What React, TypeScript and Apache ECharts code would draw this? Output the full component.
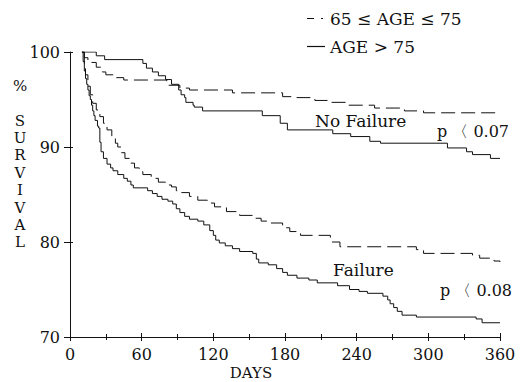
import React, { useEffect, useRef } from "react";
import * as echarts from "echarts";

// Kaplan-Meier curves: [day, % survival] (value holds from that day onward)
const noFailureOld: [number, number][] = [
  [10, 100], [22, 99.6], [29, 99.2], [61, 98.8], [64, 98.3], [69, 97.9], [74, 97.5],
  [80, 97.1], [85, 96.6], [91, 96.0], [93, 95.5], [96, 95.2], [97, 94.7], [103, 94.4],
  [104, 94.2], [111, 93.8], [161, 93.3], [176, 92.5], [182, 91.8], [220, 91.4],
  [235, 91.1], [251, 90.6], [260, 90.4], [316, 89.9], [332, 89.5], [337, 89.2],
  [352, 88.8], [360, 88.8],
];
const noFailureYoung: [number, number][] = [
  [10, 100], [12, 99.4], [15, 98.9], [22, 98.4], [27, 97.9], [30, 97.6], [38, 97.3],
  [45, 97.05], [81, 96.5], [92, 96.2], [100, 96.0], [136, 95.7], [178, 95.3],
  [190, 95.2], [205, 94.9], [218, 94.7], [232, 94.4], [255, 94.1], [280, 93.8],
  [296, 93.6], [360, 93.6],
];
const failureOld: [number, number][] = [
  [10, 100], [11, 99], [12, 98], [13, 97.2], [14, 96.6], [15, 96], [16, 95.4], [17, 95],
  [18, 94.4], [19, 93.8], [20, 93.3], [21, 92.8], [23, 92.2], [24, 92], [25, 90.5],
  [26, 89.5], [28, 88.8], [31, 88.2], [34, 87.8], [36, 87.5], [40, 87.1], [45, 86.7],
  [48, 86.4], [51, 86.0], [53, 85.7], [65, 85.4], [69, 85.1], [73, 84.8], [77, 84.5],
  [82, 84.3], [86, 84.0], [89, 83.5], [92, 83.1], [96, 82.7], [100, 82.4], [107, 82.2],
  [112, 81.8], [117, 81.2], [120, 80.7], [122, 80.2], [125, 79.9], [130, 79.6],
  [136, 79.3], [142, 79.0], [153, 78.8], [156, 78.2], [158, 77.8], [166, 77.6],
  [173, 77.2], [178, 76.8], [182, 76.5], [190, 76.2], [200, 76.0], [207, 75.7],
  [224, 75.4], [234, 75.0], [242, 74.8], [249, 74.6], [262, 74.3], [266, 73.9],
  [268, 73.5], [271, 73.1], [274, 72.7], [278, 72.3], [290, 72.1], [340, 71.9],
  [345, 71.5], [360, 71.5],
];
const failureYoung: [number, number][] = [
  [10, 100], [12, 98.5], [13, 97.6], [15, 96.4], [17, 95.5], [19, 94.6], [22, 93.9],
  [25, 93.2], [28, 92.5], [31, 91.8], [35, 91.0], [38, 90.4], [40, 90.0], [43, 89.4],
  [46, 88.8], [50, 88.3], [54, 87.8], [58, 87.4], [61, 87.1], [68, 86.7], [74, 86.3],
  [80, 86.0], [85, 85.8], [89, 85.4], [92, 85.2], [100, 84.8], [107, 84.4], [115, 84.1],
  [121, 83.7], [131, 83.2], [142, 82.8], [153, 82.5], [160, 82.2], [165, 82.0],
  [178, 81.5], [184, 81.1], [193, 80.7], [218, 80.0], [226, 79.5], [290, 79.2],
  [296, 78.8], [337, 78.6], [343, 78.3], [355, 78.0], [360, 77.9],
];

const groupNames = ["65 ≤ AGE ≤ 75", "AGE > 75"];
const yTitle = "%\n\nS\nU\nR\nV\nI\nV\nA\nL";
const xTitle = "DAYS";
const annotations = ["No Failure", "p 〈 0.07", "Failure", "p 〈 0.08"];

const FONT = "'DejaVu Serif', serif";
const INK = "#111";

export default function App() {
  const ref = useRef<HTMLDivElement>(null);
  useEffect(() => {
    if (!ref.current) return;
    const chart = echarts.init(ref.current, undefined, { renderer: "svg" });
    const lineSeries = (name: string, data: [number, number][], dashed: boolean) => ({
      type: "line",
      name,
      data,
      step: "end",
      symbol: "none",
      showSymbol: false,
      color: INK,
      lineStyle: { color: INK, width: 1, type: dashed ? [14, 6] : "solid" },
      xAxisIndex: 0,
      yAxisIndex: 0,
    });
    chart.setOption({
      animation: false,
      backgroundColor: "#fff",
      grid: {
        left: 70,
        right: 20,
        top: 52,
        bottom: 45,
        containLabel: false,
        outerBoundsMode: "none",
      },
      legend: {
        orient: "vertical",
        left: 302,
        top: 5,
        itemWidth: 18,
        itemHeight: 14,
        itemGap: 11,
        selectedMode: false,
        itemStyle: { color: INK, borderWidth: 0 },
        textStyle: { fontFamily: FONT, fontSize: 17, color: INK },
        data: [
          { name: groupNames[0], icon: "path://M0 0H7V1.2H0Z M14 0H16V1.2H14Z M17.9 0H18V1.2H17.9Z" },
          { name: groupNames[1], icon: "path://M0 0H18V1.2H0Z" },
        ],
      },
      xAxis: [
        {
          type: "value",
          min: 0,
          max: 360,
          interval: 60,
          position: "bottom",
          axisLine: { show: true, lineStyle: { color: INK, width: 1 } },
          axisTick: { show: true, inside: false, length: 4, lineStyle: { color: INK } },
          minorTick: { show: true, splitNumber: 2, length: 3, lineStyle: { color: INK } },
          splitLine: { show: false },
          axisLabel: { fontFamily: FONT, fontSize: 16, color: INK, margin: 9 },
          name: xTitle,
          nameLocation: "middle",
          nameGap: 28,
          nameMoveOverlap: false,
          nameTextStyle: {
            fontFamily: FONT,
            fontSize: 15,
            lineHeight: 16,
            color: INK,
            padding: [0, 68, 0, 0],
          },
        },
        {
          type: "value",
          min: 0,
          max: 360,
          interval: 60,
          position: "bottom",
          offset: 0,
          axisLine: { show: false },
          axisTick: { show: true, inside: true, length: 4, lineStyle: { color: INK } },
          minorTick: { show: true, splitNumber: 2, length: 3, lineStyle: { color: INK } },
          splitLine: { show: false },
          axisLabel: { show: false },
        },
      ],
      yAxis: [
        {
          type: "value",
          min: 70,
          max: 100,
          interval: 10,
          position: "left",
          axisLine: { show: true, lineStyle: { color: INK, width: 1 } },
          axisTick: { show: true, inside: false, length: 6, lineStyle: { color: INK } },
          splitLine: { show: false },
          axisLabel: { fontFamily: FONT, fontSize: 16, color: INK, margin: 10 },
        },
        {
          type: "value",
          min: 70,
          max: 100,
          interval: 10,
          position: "left",
          offset: 0,
          axisLine: { show: false },
          axisTick: { show: true, inside: true, length: 3, lineStyle: { color: INK } },
          splitLine: { show: false },
          axisLabel: { show: false },
        },
      ],
      series: [
        lineSeries(groupNames[0], noFailureYoung, true),
        lineSeries(groupNames[1], noFailureOld, false),
        lineSeries(groupNames[0], failureYoung, true),
        lineSeries(groupNames[1], failureOld, false),
      ],
      graphic: [
        {
          type: "text",
          x: 20,
          y: 77,
          style: {
            text: yTitle,
            fontFamily: FONT,
            fontSize: 15,
            lineHeight: 17.4,
            fill: INK,
            align: "center",
            verticalAlign: "top",
          },
        },
        {
          type: "text",
          x: 315,
          y: 121,
          style: { text: annotations[0], fontFamily: FONT, fontSize: 17, fill: INK, verticalAlign: "middle" },
        },
        {
          type: "text",
          x: 437,
          y: 131,
          style: { text: annotations[1], fontFamily: FONT, fontSize: 16, fill: INK, verticalAlign: "middle" },
        },
        {
          type: "text",
          x: 333,
          y: 270,
          style: { text: annotations[2], fontFamily: FONT, fontSize: 17, fill: INK, verticalAlign: "middle" },
        },
        {
          type: "text",
          x: 440,
          y: 290,
          style: { text: annotations[3], fontFamily: FONT, fontSize: 16, fill: INK, verticalAlign: "middle" },
        },
      ],
    });
    return () => chart.dispose();
  }, []);
  return (
    <div
      ref={ref}
      style={{ position: "absolute", left: 0, top: 0, width: 520, height: 382 }}
    />
  );
}
